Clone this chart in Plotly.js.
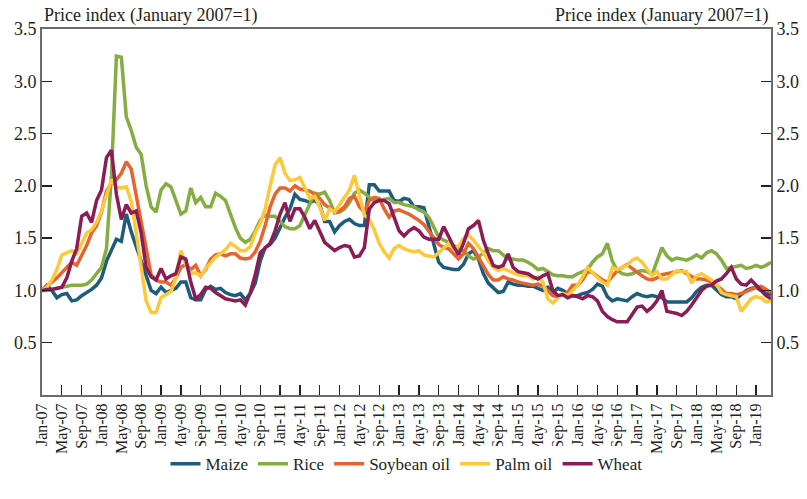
<!DOCTYPE html>
<html>
<head>
<meta charset="utf-8">
<script src="https://cdn.plot.ly/plotly-3.0.1.min.js"></script>
<style>html,body{margin:0;padding:0;background:#fff;}#chart{width:807px;height:499px;}</style>
</head>
<body>
<div id="chart"></div>
<script>
const tickLabels = ["Jan-07","May-07","Sep-07","Jan-08","May-08","Sep-08","Jan-09","May-09","Sep-09","Jan-10","May-10","Sep-10","Jan-11","May-11","Sep-11","Jan-12","May-12","Sep-12","Jan-13","May-13","Sep-13","Jan-14","May-14","Sep-14","Jan-15","May-15","Sep-15","Jan-16","May-16","Sep-16","Jan-17","May-17","Sep-17","Jan-18","May-18","Sep-18","Jan-19"];
const seriesNames = ["Maize","Rice","Soybean oil","Palm oil","Wheat"];
const maize = [1.00,1.05,1.00,0.93,0.96,0.97,0.90,0.91,0.95,0.98,1.01,1.05,
1.12,1.28,1.38,1.49,1.47,1.73,1.56,1.42,1.26,1.12,1.00,0.97,
1.03,0.98,1.00,1.02,1.08,1.08,0.93,0.91,0.91,1.01,1.04,1.01,
1.02,0.98,0.96,0.95,0.97,0.91,0.97,1.07,1.28,1.41,1.44,1.50,
1.60,1.70,1.78,1.92,1.87,1.86,1.84,1.86,1.82,1.66,1.66,1.56,
1.62,1.66,1.68,1.64,1.62,1.62,2.01,2.01,1.95,1.95,1.95,1.86,
1.85,1.88,1.87,1.80,1.80,1.79,1.62,1.45,1.27,1.22,1.21,1.20,
1.20,1.25,1.35,1.38,1.30,1.16,1.07,1.02,0.98,0.99,1.08,1.06,
1.05,1.05,1.04,1.04,1.02,1.00,1.03,0.98,1.02,1.00,0.97,0.95,
0.95,0.97,0.98,1.01,1.06,1.04,0.94,0.90,0.92,0.91,0.90,0.94,
0.97,0.95,0.94,0.95,0.94,0.93,0.89,0.89,0.89,0.89,0.89,0.93,
0.99,1.03,1.05,1.05,1.01,0.96,0.94,0.94,0.92,0.96,1.00,1.02,
1.03,1.00,0.97,0.96];
const rice = [1.00,1.00,1.01,1.02,1.03,1.04,1.05,1.05,1.05,1.06,1.10,1.16,
1.22,1.40,2.10,3.24,3.23,2.66,2.53,2.37,2.30,2.00,1.80,1.75,
1.96,2.02,1.99,1.86,1.73,1.76,1.98,1.84,1.89,1.80,1.80,1.93,
1.90,1.86,1.73,1.60,1.50,1.46,1.49,1.57,1.67,1.72,1.71,1.71,
1.66,1.61,1.59,1.59,1.62,1.72,1.82,1.93,1.92,1.94,1.86,1.74,
1.75,1.78,1.84,1.93,1.96,1.93,1.89,1.86,1.86,1.87,1.88,1.84,
1.84,1.82,1.81,1.80,1.77,1.75,1.70,1.61,1.51,1.48,1.46,1.43,
1.40,1.38,1.33,1.30,1.32,1.36,1.40,1.38,1.38,1.34,1.30,1.30,
1.29,1.29,1.27,1.24,1.20,1.21,1.18,1.15,1.14,1.14,1.13,1.13,
1.16,1.18,1.20,1.27,1.32,1.35,1.45,1.28,1.19,1.16,1.15,1.16,
1.18,1.19,1.18,1.15,1.28,1.41,1.33,1.29,1.31,1.30,1.29,1.31,
1.34,1.31,1.36,1.38,1.35,1.29,1.21,1.22,1.23,1.24,1.21,1.22,
1.24,1.22,1.24,1.27];
const soybeanOil = [1.00,1.04,1.07,1.12,1.17,1.22,1.27,1.24,1.33,1.43,1.55,1.62,
1.75,1.95,2.03,2.06,2.12,2.23,2.16,1.90,1.67,1.38,1.15,1.10,
1.08,1.08,1.05,1.12,1.22,1.25,1.20,1.24,1.14,1.20,1.30,1.34,
1.35,1.33,1.35,1.35,1.31,1.30,1.31,1.37,1.47,1.62,1.80,1.92,
1.98,1.98,1.95,2.00,1.97,1.96,1.95,1.92,1.88,1.82,1.79,1.75,
1.76,1.80,1.88,1.90,1.80,1.75,1.86,1.89,1.88,1.78,1.70,1.76,
1.77,1.75,1.73,1.70,1.67,1.63,1.57,1.50,1.44,1.41,1.40,1.35,
1.30,1.35,1.45,1.40,1.32,1.24,1.15,1.10,1.10,1.13,1.11,1.10,
1.08,1.07,1.06,1.05,1.06,1.04,1.00,0.95,0.94,0.96,0.98,1.05,
1.05,1.10,1.18,1.17,1.13,1.10,1.08,1.14,1.19,1.22,1.25,1.21,
1.17,1.14,1.11,1.10,1.12,1.15,1.16,1.17,1.18,1.19,1.16,1.13,
1.11,1.11,1.10,1.08,1.05,1.01,0.97,0.97,0.96,0.97,0.99,1.01,
1.03,1.04,1.01,0.98];
const palmOil = [1.00,1.03,1.10,1.20,1.34,1.36,1.38,1.35,1.45,1.55,1.58,1.65,
1.76,1.92,2.06,1.99,1.98,1.99,1.85,1.55,1.22,0.90,0.79,0.79,
0.93,0.96,0.99,1.12,1.38,1.25,1.16,1.17,1.14,1.21,1.26,1.32,
1.35,1.39,1.45,1.42,1.38,1.38,1.42,1.55,1.64,1.78,2.00,2.20,
2.27,2.12,2.05,2.06,2.08,1.98,1.88,1.90,1.80,1.67,1.78,1.75,
1.82,1.88,1.96,2.10,1.90,1.72,1.68,1.58,1.45,1.37,1.31,1.40,
1.43,1.40,1.38,1.37,1.38,1.34,1.33,1.32,1.36,1.40,1.45,1.40,
1.42,1.50,1.53,1.48,1.42,1.36,1.28,1.22,1.19,1.21,1.19,1.17,
1.15,1.14,1.14,1.11,1.13,1.08,0.92,0.88,0.93,0.97,0.95,1.00,
1.05,1.13,1.22,1.17,1.12,1.08,1.05,1.22,1.20,1.22,1.24,1.29,
1.31,1.27,1.21,1.14,1.18,1.11,1.11,1.15,1.19,1.18,1.18,1.07,
1.14,1.16,1.13,1.10,1.06,0.98,0.96,0.95,0.94,0.80,0.86,0.92,
0.94,0.93,0.89,0.90];
const wheat = [1.00,1.01,1.01,1.02,1.03,1.12,1.28,1.40,1.71,1.74,1.65,1.86,
1.96,2.27,2.34,1.92,1.68,1.82,1.74,1.76,1.55,1.22,1.13,1.10,
1.21,1.11,1.14,1.16,1.32,1.30,1.08,0.92,0.96,1.03,1.02,0.98,
0.95,0.92,0.91,0.90,0.91,0.86,0.98,1.15,1.36,1.40,1.45,1.57,
1.73,1.84,1.66,1.78,1.78,1.70,1.59,1.67,1.57,1.46,1.42,1.38,
1.41,1.43,1.42,1.32,1.33,1.41,1.78,1.84,1.86,1.86,1.83,1.70,
1.57,1.52,1.57,1.60,1.57,1.51,1.49,1.49,1.49,1.61,1.51,1.42,
1.34,1.45,1.59,1.62,1.67,1.48,1.35,1.24,1.22,1.24,1.35,1.22,
1.18,1.17,1.16,1.13,1.11,1.14,1.16,1.00,0.95,0.96,0.93,0.95,
0.94,0.92,0.95,0.94,0.90,0.80,0.75,0.72,0.70,0.70,0.70,0.77,
0.84,0.85,0.80,0.84,0.90,1.00,0.80,0.79,0.78,0.76,0.80,0.86,
0.93,1.00,1.04,1.05,1.09,1.11,1.16,1.22,1.11,1.06,1.05,1.10,
1.05,1.00,0.95,0.92];
const yTicks = [0.5,1.0,1.5,2.0,2.5,3.0,3.5];
const yTickText = ["0.5","1.0","1.5","2.0","2.5","3.0","3.5"];
const axisTitle = "Price index (January 2007=1)";

const colors = ["#1d5c7a","#84ad42","#e8642f","#fdc93a","#8b1c55"];
const allSeries = [maize, rice, soybeanOil, palmOil, wheat];
const months = maize.map((_, i) => i);
const tickVals = tickLabels.map((_, i) => i * 4);

const FONT = "Liberation Serif, DejaVu Serif, serif";
const traces = allSeries.map((s, k) => ({
  x: months, y: s, type: 'scatter', mode: 'lines', name: seriesNames[k],
  line: {color: colors[k], width: 3.5}, hoverinfo: 'skip'
}));
traces.push({x: [0], y: [1], yaxis: 'y2', type: 'scatter', mode: 'lines', showlegend: false, hoverinfo: 'skip', line: {width: 0}});

const yCommon = {
  range: [0, 3.5], tickvals: yTicks, ticktext: yTickText, ticks: 'inside', ticklen: 10,
  tickwidth: 1.3, tickcolor: '#222', showgrid: false, zeroline: false, showline: true,
  linecolor: '#6b6b6b', linewidth: 2, tickfont: {family: FONT, size: 18, color: '#231f20'}, fixedrange: true
};
const layout = {
  width: 807, height: 499, paper_bgcolor: '#fff', plot_bgcolor: '#fff',
  margin: {l: 42, r: 36, t: 29, b: 104},
  font: {family: FONT, color: '#231f20'},
  xaxis: {
    range: [0, 147], tickvals: tickVals, ticktext: tickLabels, tickangle: -90,
    ticks: 'inside', ticklen: 10, tickwidth: 1.3, tickcolor: '#222',
    showgrid: false, zeroline: false, showline: true, mirror: true,
    linecolor: '#6b6b6b', linewidth: 2, tickfont: {family: FONT, size: 16, color: '#231f20'}
  },
  yaxis: Object.assign({side: 'left'}, yCommon),
  yaxis2: Object.assign({side: 'right', overlaying: 'y'}, yCommon),
  showlegend: true,
  legend: {orientation: 'h', x: 0.5, xanchor: 'center', y: -0.14, yanchor: 'top',
    font: {family: FONT, size: 17, color: '#231f20'}, itemwidth: 30, tracegroupgap: 0},
  annotations: [
    {text: axisTitle, xref: 'paper', yref: 'paper', x: 0, y: 1, xanchor: 'left', yanchor: 'bottom', yshift: 1, showarrow: false, font: {family: FONT, size: 18, color: '#231f20'}},
    {text: axisTitle, xref: 'paper', yref: 'paper', x: 1, y: 1, xanchor: 'right', yanchor: 'bottom', yshift: 1, showarrow: false, font: {family: FONT, size: 18, color: '#231f20'}}
  ]
};
Plotly.newPlot('chart', traces, layout, {staticPlot: true, displayModeBar: false});
</script>
</body>
</html>
